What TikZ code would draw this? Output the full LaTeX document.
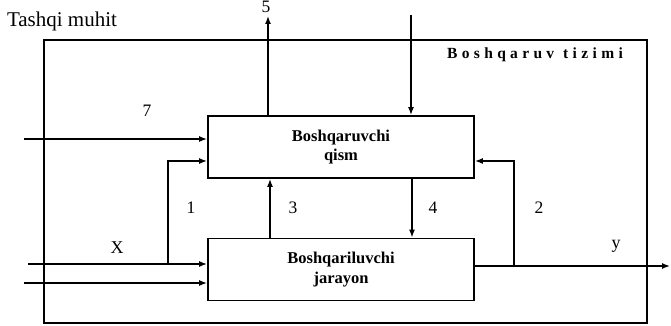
\documentclass[tikz,border=0pt]{standalone}
\usepackage{fontspec}
\setmainfont{Liberation Serif}
\usetikzlibrary{arrows.meta}
\tikzset{
  blk/.style={draw, line width=1.8pt, minimum width=266pt, minimum height=62pt, inner sep=0pt,
    font=\fontsize{16.5}{19.5}\selectfont\bfseries, align=center},
  conn/.style={line width=1.4pt, -{Latex[length=8pt,width=6pt]}},
  lbl/.style={font=\fontsize{17.5}{19}\selectfont, inner sep=0pt}
}
\begin{document}
\begin{tikzpicture}[x=1pt,y=-1pt]
\useasboundingbox (0,0) rectangle (671,326);
\node[draw, line width=1.3pt, minimum width=603pt, minimum height=283pt, inner sep=0pt] (sys) at (345.5,181.5) {};
\node[blk] (U) at (341,147) {Boshqaruvchi\\qism};
\node[blk] (L) at (341,269.5) {Boshqariluvchi\\jarayon};
\node[lbl, font=\fontsize{21}{23}\selectfont] (env) at (62,21) {Tashqi muhit};
\node[inner sep=0pt, font=\fontsize{15.5}{17}\selectfont\bfseries\addfontfeatures{LetterSpace=28}] (sysl) at (535,55) {Boshqaruv\hspace{9pt}tizimi};
% coordinates
\coordinate (in7) at (24,139);
\coordinate (inX) at (28,264);
\coordinate (in2) at (24,283);
\coordinate (j1) at (168,264);
\coordinate (j2) at (514,266);
\coordinate (outY) at (670,266);
\coordinate (o5) at (268,16);
\coordinate (iT) at (411,15);
% connectors
\draw[conn] (in7) -- (in7 -| U.west);
\draw[conn] (inX) -- (inX -| L.west);
\draw[conn] (in2) -- (in2 -| L.west);
\draw[conn] (j1) |- ([yshift=-14pt]U.west);
\draw[conn] ([xshift=-71pt]L.north) -- ([xshift=-71pt]U.south);
\draw[conn] ([xshift=71pt]U.south) -- ([xshift=71pt]L.north);
\draw[conn] ([yshift=3.5pt]L.east) -- (outY);
\draw[conn] (j2) |- ([yshift=-14pt]U.east);
\draw[conn] ([xshift=-73pt]U.north) -- (o5);
\draw[conn] (iT) -- (iT |- U.north);
% labels
\node[lbl] (l7) at (147,111) {7};
\node[lbl] (l1) at (191,208) {1};
\node[lbl] (l3) at (293,208) {3};
\node[lbl] (l4) at (433,208) {4};
\node[lbl] (l2) at (539,208) {2};
\node[lbl, font=\fontsize{18}{20}\selectfont] (lX) at (117,248) {X};
\node[lbl, font=\fontsize{18}{20}\selectfont] (lY) at (616,246) {y};
\node[lbl] (l5) at (266,7) {5};
\end{tikzpicture}
\end{document}
